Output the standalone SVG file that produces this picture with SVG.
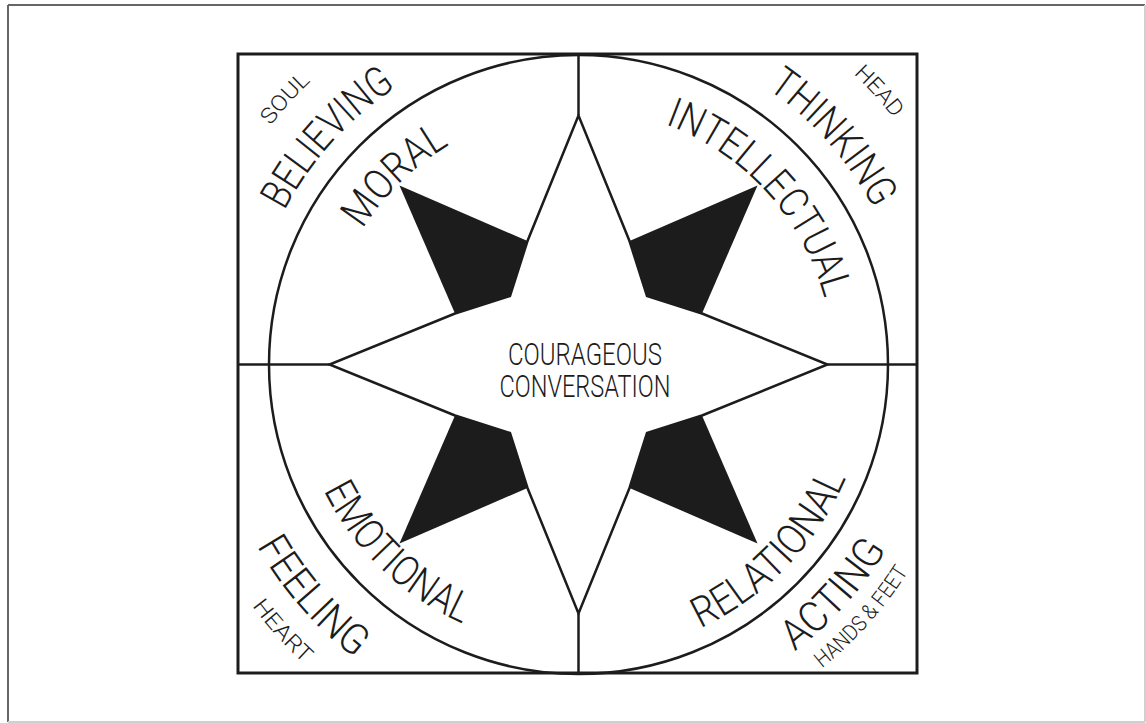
<svg xmlns="http://www.w3.org/2000/svg" xmlns:xlink="http://www.w3.org/1999/xlink" width="1146" height="723" viewBox="0 0 1146 723">
<style>
.ln{fill:none;stroke:#1c1c1c;stroke-width:2.5}
.lbl{font-family:Roboto,"Liberation Sans",sans-serif;font-weight:300;fill:#1c1c1c}
.big{font-size:42px}
.sm{font-size:22px}
.ctr{font-size:32px;text-anchor:middle}
.blk{fill:#1c1c1c}
</style>
<defs>
<path id="pSoul" d="M217.8,217.0 A389,389 0 0 1 396.6,19.9"/>
<path id="pBelieving" d="M249.5,323.1 A331,331 0 0 1 504.1,41.3"/>
<path id="pMoral" d="M328.5,316.4 A254,254 0 0 1 537.4,113.3"/>
<path id="pIntellectual" d="M611.3,111.2 A255,255 0 0 1 832.8,352.9"/>
<path id="pThinking" d="M655.4,39.1 A334,334 0 0 1 909.8,325.6"/>
<path id="pHead" d="M764.6,10.2 A400,400 0 0 1 948.4,212.9"/>
<path id="pEmotional" d="M295.6,394.7 A284,284 0 0 0 559.2,647.4"/>
<path id="pFeeling" d="M216.0,435.7 A369,369 0 0 0 459.1,713.3"/>
<path id="pHeart" d="M201.8,516.7 A406,406 0 0 0 388.0,722.8"/>
<path id="pRelational" d="M608.5,653.5 A291,291 0 0 0 868.3,385.5"/>
<path id="pActing" d="M689.2,706.4 A360,360 0 0 0 930.1,438.8"/>
<path id="pHands" d="M732.2,722.2 A390,390 0 0 0 951.5,476.1"/>
</defs>
<rect width="1146" height="723" fill="#ffffff"/>
<g id="frame">
<line x1="8" y1="5" x2="1145" y2="5" stroke="#666" stroke-width="2"/>
<line x1="8" y1="5" x2="8" y2="722" stroke="#666" stroke-width="2"/>
<line x1="1145" y1="5" x2="1145" y2="722" stroke="#d0d0d0" stroke-width="2"/>
<line x1="8" y1="722" x2="1145" y2="722" stroke="#d0d0d0" stroke-width="2"/>
</g>
<g id="board">
<rect x="238" y="54" width="679" height="619" fill="none" stroke="#1c1c1c" stroke-width="3"/>
<circle cx="578.5" cy="364.5" r="309.5" class="ln"/>
</g>
<g id="connectors">
<line x1="578.5" y1="54" x2="578.5" y2="115.5" class="ln"/>
<line x1="578.5" y1="613.5" x2="578.5" y2="673" class="ln"/>
<line x1="238" y1="364.5" x2="329.5" y2="364.5" class="ln"/>
<line x1="827.5" y1="364.5" x2="917" y2="364.5" class="ln"/>
</g>
<g id="star" transform="translate(578.5,364.5)">
<polygon class="ln" fill="#fff" stroke-linejoin="miter" points="0,-249 -51,-123.5 -68.5,-68.5 -123.5,-51 -249,0 -123.5,51 -68.5,68.5 -51,123.5 0,249 51,123.5 68.5,68.5 123.5,51 249,0 123.5,-51 68.5,-68.5 51,-123.5"/>
<polygon class="blk" points="-179,-179 -51,-123.5 -68.5,-68.5 -123.5,-51"/>
<polygon class="blk" points="179,-179 51,-123.5 68.5,-68.5 123.5,-51"/>
<polygon class="blk" points="-179,179 -51,123.5 -68.5,68.5 -123.5,51"/>
<polygon class="blk" points="179,179 51,123.5 68.5,68.5 123.5,51"/>
</g>
<g id="center-label">
<text class="lbl ctr" x="585" y="365" textLength="154" lengthAdjust="spacingAndGlyphs">COURAGEOUS</text>
<text class="lbl ctr" x="585" y="397" textLength="171" lengthAdjust="spacingAndGlyphs">CONVERSATION</text>
</g>
<g id="moral-quadrant">
<text class="lbl sm"><textPath href="#pSoul" xlink:href="#pSoul" startOffset="50%" text-anchor="middle" textLength="60" lengthAdjust="spacingAndGlyphs">SOUL</textPath></text>
<text class="lbl big"><textPath href="#pBelieving" xlink:href="#pBelieving" startOffset="50%" text-anchor="middle" textLength="168" lengthAdjust="spacingAndGlyphs">BELIEVING</textPath></text>
<text class="lbl big"><textPath href="#pMoral" xlink:href="#pMoral" startOffset="50%" text-anchor="middle" textLength="122" lengthAdjust="spacingAndGlyphs">MORAL</textPath></text>
</g>
<g id="intellectual-quadrant">
<text class="lbl big"><textPath href="#pIntellectual" xlink:href="#pIntellectual" startOffset="50%" text-anchor="middle" textLength="245" lengthAdjust="spacingAndGlyphs">INTELLECTUAL</textPath></text>
<text class="lbl big"><textPath href="#pThinking" xlink:href="#pThinking" startOffset="50%" text-anchor="middle" textLength="162" lengthAdjust="spacingAndGlyphs">THINKING</textPath></text>
<text class="lbl sm"><textPath href="#pHead" xlink:href="#pHead" startOffset="50%" text-anchor="middle" textLength="60" lengthAdjust="spacingAndGlyphs">HEAD</textPath></text>
</g>
<g id="emotional-quadrant">
<text class="lbl big"><textPath href="#pEmotional" xlink:href="#pEmotional" startOffset="50%" text-anchor="middle" textLength="196" lengthAdjust="spacingAndGlyphs">EMOTIONAL</textPath></text>
<text class="lbl big"><textPath href="#pFeeling" xlink:href="#pFeeling" startOffset="50%" text-anchor="middle" textLength="150" lengthAdjust="spacingAndGlyphs">FEELING</textPath></text>
<text class="lbl sm"><textPath href="#pHeart" xlink:href="#pHeart" startOffset="50%" text-anchor="middle" textLength="78" lengthAdjust="spacingAndGlyphs">HEART</textPath></text>
</g>
<g id="relational-quadrant">
<text class="lbl big"><textPath href="#pRelational" xlink:href="#pRelational" startOffset="50%" text-anchor="middle" textLength="214" lengthAdjust="spacingAndGlyphs">RELATIONAL</textPath></text>
<text class="lbl big"><textPath href="#pActing" xlink:href="#pActing" startOffset="50%" text-anchor="middle" textLength="138" lengthAdjust="spacingAndGlyphs">ACTING</textPath></text>
<text class="lbl sm"><textPath href="#pHands" xlink:href="#pHands" startOffset="50%" text-anchor="middle" textLength="130" lengthAdjust="spacingAndGlyphs">HANDS &amp; FEET</textPath></text>
</g>
</svg>
